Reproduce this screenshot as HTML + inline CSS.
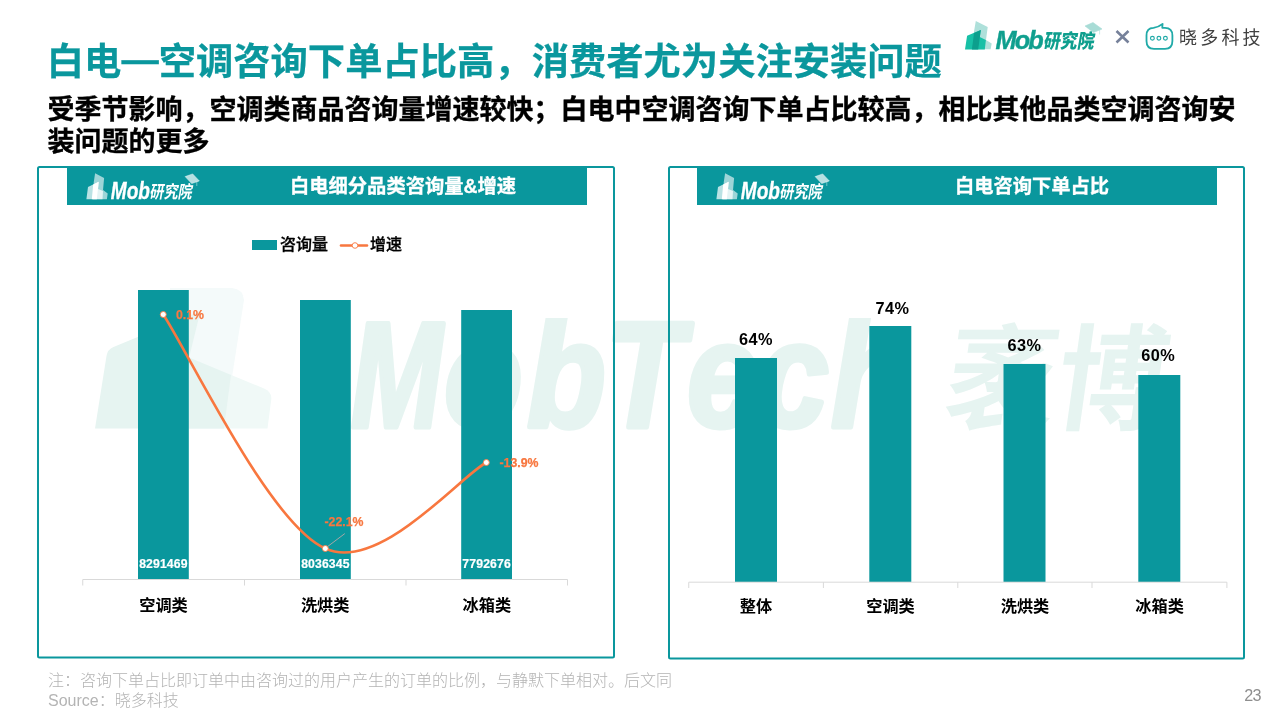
<!DOCTYPE html>
<html lang="zh-CN">
<head>
<meta charset="utf-8">
<title>白电—空调咨询下单占比高，消费者尤为关注安装问题</title>
<style>
  html, body { margin: 0; padding: 0; background: #ffffff; }
  body { width: 1280px; height: 720px; position: relative; overflow: hidden;
         font-family: "Liberation Sans", "Noto Sans CJK SC", sans-serif; color: #000; }
  .abs { position: absolute; white-space: nowrap; }
  #shapes { position: absolute; left: 0; top: 0; width: 1280px; height: 720px; }
  .title { left: 46.8px; top: 35.8px; font-size: 37.3px; font-weight: 700; color: #0a979d; line-height: 52px; letter-spacing: 0; -webkit-text-stroke: 0.25px #0a979d; }
  .sub { left: 47.5px; top: 93.6px; font-size: 27px; font-weight: 700; color: #000; line-height: 32.3px; width: 1200px; white-space: normal; -webkit-text-stroke: 0.35px #000; }
  .hdr { top: 168.3px; height: 37px; line-height: 37px; font-size: 19.3px; font-weight: 700; color: #fff; text-align: center; -webkit-text-stroke: 0.3px #fff; }
  .cat { font-size: 16.2px; font-weight: 700; color: #000; line-height: 20px; text-align: center; width: 100px; }
  .pct { font-size: 16.3px; letter-spacing: 0.45px; font-weight: 700; color: #000; line-height: 20px; text-align: center; width: 80px; }
  .val { font-size: 12.2px; letter-spacing: 0.15px; font-weight: 700; color: #fff; line-height: 14px; text-align: center; width: 60px; -webkit-text-stroke: 0.2px #fff; }
  .rate { font-size: 12.3px; font-weight: 700; color: #f8773f; line-height: 14px; -webkit-text-stroke: 0.25px #f8773f; }
  .leg { font-size: 16px; font-weight: 500; color: #000; line-height: 20px; -webkit-text-stroke: 0.3px #000; }
  .note { left: 48px; font-size: 16px; font-weight: 300; color: #b4b4b4; line-height: 20px; }
  .pg { left: 1244.3px; top: 684.5px; font-size: 16.2px; letter-spacing: -0.7px; font-weight: 300; color: #8e8e8e; line-height: 20px; }
  .xd { left: 1179px; top: 25px; font-size: 18px; letter-spacing: 3.2px; color: #404040; font-weight: 400; line-height: 26px; }
</style>
</head>
<body>
<svg id="shapes" width="1280" height="720" viewBox="0 0 1280 720">
  <!-- watermark -->
  <clipPath id="wmclip"><rect x="300" y="318" width="700" height="130"/></clipPath>
  <g id="wm" fill="#e6f4f1">
    <path d="M170 288 H232 Q243 289 244 300 L224 428.4 H170 Z" fill="#f4fafa"/>
    <path d="M189 357.5 L264 388.5 Q272 392 271.3 399 L267.5 428.4 H189 Z" fill="#f0f9f7"/>
    <path d="M189 357.5 L231 374.9 L224 428.4 H189 Z" fill="#e6f4f1"/>
    <path d="M95 428.4 L106.5 356 Q107.5 349.5 113.5 347 L200.5 311 L189 358 V428.4 Z" fill="#e6f4f1"/>
    <g clip-path="url(#wmclip)"><text transform="scale(0.86 1)" y="427.5" font-family="Liberation Sans, sans-serif" font-weight="700" font-style="italic" font-size="150" stroke="#e6f4f1" stroke-width="5" stroke-linejoin="round"><tspan x="408.1" textLength="106" lengthAdjust="spacingAndGlyphs">M</tspan><tspan x="516.3 612.8 703.5 798.8 880.2 966.3">obTech</tspan></text></g>
    <text transform="translate(941 421) skewX(-8)" font-family="Liberation Sans, Noto Sans CJK SC, sans-serif" font-weight="700" font-size="115" textLength="222" lengthAdjust="spacingAndGlyphs">袤博</text>
  </g>

  <!-- panels -->
  <rect x="38" y="167" width="576" height="490.5" rx="1.5" fill="none" stroke="#0a979d" stroke-width="2"/>
  <rect x="669" y="167" width="575" height="491.5" rx="1.5" fill="none" stroke="#0a979d" stroke-width="2"/>
  <rect x="67" y="168" width="520" height="37" fill="#0a979d"/>
  <rect x="697" y="168" width="520" height="37" fill="#0a979d"/>


  <!-- header logos -->
  <g id="hl1">
    <path d="M95.1 173.2 L104.1 178.1 L103.05 189.9 L107.7 193.4 L106.9 199.3 H93 L93.75 182.2 Z" fill="#ffffff" fill-opacity="0.6"/>
    <path d="M88 186.9 L98.7 181.7 L98.1 189 L103 191 L102.5 199.3 H86.4 Z" fill="#ffffff" fill-opacity="0.72"/>
    <path d="M93.2 184.4 L98.7 181.7 L96.8 199.3 H91.8 Z" fill="#ffffff"/>
    <text x="110.8" y="198.6" font-family="Liberation Sans, sans-serif" font-weight="700" font-style="italic" font-size="23.6" fill="#fff" stroke="#fff" stroke-width="0.3" textLength="39.2" lengthAdjust="spacingAndGlyphs">Mob</text>
    <text transform="translate(149.3 197.6) skewX(-10)" font-family="Liberation Sans, Noto Sans CJK SC, sans-serif" font-weight="700" font-size="17.4" fill="#fff" textLength="42.4" lengthAdjust="spacingAndGlyphs">研究院</text>
    <path d="M185.1 176.6 L192.7 173.9 L199.3 180.9 L191.7 183.6 Z M196.8 181.5 V186" fill="#ffffff" fill-opacity="0.7" stroke="#ffffff" stroke-opacity="0.7" stroke-width="0.6"/>
  </g>
  <g id="hl2" transform="translate(630 0)">
    <path d="M95.1 173.2 L104.1 178.1 L103.05 189.9 L107.7 193.4 L106.9 199.3 H93 L93.75 182.2 Z" fill="#ffffff" fill-opacity="0.6"/>
    <path d="M88 186.9 L98.7 181.7 L98.1 189 L103 191 L102.5 199.3 H86.4 Z" fill="#ffffff" fill-opacity="0.72"/>
    <path d="M93.2 184.4 L98.7 181.7 L96.8 199.3 H91.8 Z" fill="#ffffff"/>
    <text x="110.8" y="198.6" font-family="Liberation Sans, sans-serif" font-weight="700" font-style="italic" font-size="23.6" fill="#fff" stroke="#fff" stroke-width="0.3" textLength="39.2" lengthAdjust="spacingAndGlyphs">Mob</text>
    <text transform="translate(149.3 197.6) skewX(-10)" font-family="Liberation Sans, Noto Sans CJK SC, sans-serif" font-weight="700" font-size="17.4" fill="#fff" textLength="42.4" lengthAdjust="spacingAndGlyphs">研究院</text>
    <path d="M185.1 176.6 L192.7 173.9 L199.3 180.9 L191.7 183.6 Z M196.8 181.5 V186" fill="#ffffff" fill-opacity="0.7" stroke="#ffffff" stroke-opacity="0.7" stroke-width="0.6"/>
  </g>

  <!-- left chart -->
  <g fill="#0a979d">
    <rect x="138" y="290" width="50.8" height="289.5"/>
    <rect x="300" y="300" width="50.8" height="279.5"/>
    <rect x="461.2" y="310" width="50.8" height="269.5"/>
  </g>
  <path d="M82.75 585.5 V579.5 H567.5 V585.5 M244.5 579.5 V585.5 M406 579.5 V585.5" fill="none" stroke="#d9d9d9" stroke-width="1"/>
  <path d="M344.8 533.6 L327 547" stroke="#a6a6a6" stroke-width="1" fill="none"/>
  <path d="M163.25 314.5 C189.6 354.5 270 524.5 325.3 548.5 C379.14 573.17 459.47 476.83 486.3 462.5" fill="none" stroke="#f8773f" stroke-width="2.6" stroke-linecap="round"/>
  <g fill="#fff" stroke="#f8773f" stroke-width="0.9">
    <circle cx="163.25" cy="314.5" r="3"/>
    <circle cx="325.3" cy="548.5" r="3"/>
    <circle cx="486.3" cy="462.5" r="3"/>
  </g>
  <!-- legend -->
  <rect x="252" y="240" width="25" height="10" fill="#0a979d"/>
  <path d="M341 245.5 H367" stroke="#f8773f" stroke-width="2.6" stroke-linecap="round"/>
  <circle cx="355" cy="245.5" r="2.8" fill="#fff" stroke="#f8773f" stroke-width="0.9"/>

  <!-- right chart -->
  <g fill="#0a979d">
    <rect x="735" y="358" width="42" height="224"/>
    <rect x="869.3" y="326" width="42" height="256"/>
    <rect x="1003.5" y="364" width="42" height="218"/>
    <rect x="1138.3" y="375" width="42" height="207"/>
  </g>
  <path d="M688.75 588 V582.2 H1226.9 V588 M823.4 582.2 V588 M957.8 582.2 V588 M1092 582.2 V588" fill="none" stroke="#d9d9d9" stroke-width="1"/>

  <!-- x between logos -->
  <path d="M1116.5 31 L1128.5 42.5 M1128.5 31 L1116.5 42.5" stroke="#76819a" stroke-width="2.6" fill="none"/>
  <!-- xiaoduo bubble -->
  <path d="M1153.5 27.8 Q1159 27 1162.6 23.9 Q1162.3 26 1162.3 27.8 H1165 Q1172.4 27.8 1172.4 35.5 V41 Q1172.4 48.8 1165 48.8 H1154 Q1146.5 48.8 1146.5 41 V35.5 Q1146.5 27.8 1153.5 27.8 Z" fill="none" stroke="#20aaa8" stroke-width="1.8" stroke-linejoin="round"/>
  <g fill="none" stroke="#20aaa8" stroke-width="1.15">
    <circle cx="1152.4" cy="38.3" r="1.9"/><circle cx="1158.9" cy="38.3" r="1.9"/><circle cx="1165.4" cy="38.3" r="1.9"/>
  </g>

  <!-- Mob logo top right -->
  <g id="logoTop">
    <path d="M975.8 21 L987.7 27.1 L986 40 L991.7 43.4 L990.6 49.3 H972 L974 31.5 Z" fill="#aee0da"/>
    <path d="M967.1 35.8 L980.8 30 L979.8 37.1 L985.9 40 L984.8 49.4 H965 Z" fill="#17c0a6"/>
    <path d="M974 32.9 L980.8 30 L978.2 49.4 H971.9 Z" fill="#0c9f8d"/>
    <text x="995.5" y="48.8" font-family="Liberation Sans, sans-serif" font-weight="700" font-style="italic" font-size="25.3" fill="#0f9f8e" stroke="#0f9f8e" stroke-width="0.4" letter-spacing="-1.9">Mob</text>
    <text transform="translate(1043 48.2) skewX(-10)" font-family="Liberation Sans, Noto Sans CJK SC, sans-serif" font-weight="900" font-size="19.6" fill="#0f9f8e" textLength="50.5" lengthAdjust="spacingAndGlyphs">研究院</text>
    <path d="M1085 26 L1093 22.5 L1102 29 L1093.5 32.5 Z M1099.6 30 V34.5" fill="#a8dcd6" stroke="#a8dcd6" stroke-width="0.6"/>
  </g>
</svg>

<div class="abs title">白电<span style="position:relative;top:-2.6px">—</span>空调咨询下单占比高，消费者尤为关注安装问题</div>
<div class="abs sub">受季节影响，空调类商品咨询量增速较快；白电中空调咨询下单占比较高，相比其他品类空调咨询安装问题的更多</div>

<div class="abs hdr" style="left:253px;width:300px;">白电细分品类咨询量&amp;增速</div>
<div class="abs hdr" style="left:882px;width:300px;">白电咨询下单占比</div>

<div class="abs leg" style="left:280px;top:235px;">咨询量</div>
<div class="abs leg" style="left:370px;top:235px;">增速</div>

<div class="abs rate" style="left:176px;top:307.5px;">0.1%</div>
<div class="abs rate" style="left:324.5px;top:514.5px;">-22.1%</div>
<div class="abs rate" style="left:499.5px;top:455.5px;">-13.9%</div>

<div class="abs val" style="left:133.4px;top:557px;">8291469</div>
<div class="abs val" style="left:295.4px;top:557px;">8036345</div>
<div class="abs val" style="left:456.6px;top:557px;">7792676</div>

<div class="abs cat" style="left:113.5px;top:595px;">空调类</div>
<div class="abs cat" style="left:275.2px;top:595px;">洗烘类</div>
<div class="abs cat" style="left:436.8px;top:595px;">冰箱类</div>

<div class="abs pct" style="left:716px;top:329px;">64%</div>
<div class="abs pct" style="left:852.5px;top:298px;">74%</div>
<div class="abs pct" style="left:984.5px;top:335px;">63%</div>
<div class="abs pct" style="left:1118.3px;top:345.3px;">60%</div>

<div class="abs cat" style="left:706px;top:596px;">整体</div>
<div class="abs cat" style="left:840.5px;top:596px;">空调类</div>
<div class="abs cat" style="left:975px;top:596px;">洗烘类</div>
<div class="abs cat" style="left:1109.6px;top:596px;">冰箱类</div>

<div class="abs xd">晓多科技</div>

<div class="abs note" style="top:671.2px;">注：咨询下单占比即订单中由咨询过的用户产生的订单的比例，与静默下单相对。后文同</div>
<div class="abs note" style="top:691.3px;">Source：晓多科技</div>
<div class="abs pg">23</div>
</body>
</html>
